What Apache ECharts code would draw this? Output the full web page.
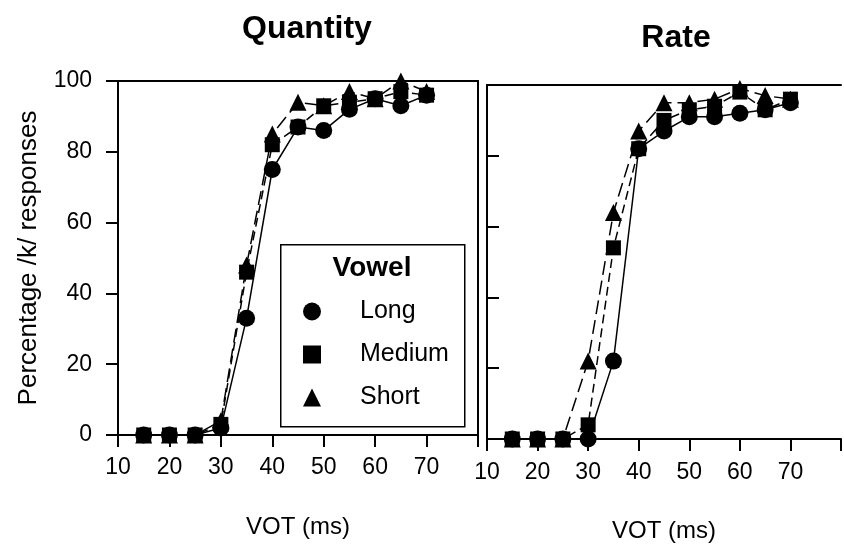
<!DOCTYPE html>
<html>
<head>
<meta charset="utf-8">
<script src="https://cdn.jsdelivr.net/npm/echarts@6/dist/echarts.min.js"></script>
<style>
html,body{margin:0;padding:0;background:#fff;}
#chart{width:844px;height:548px;}
</style>
</head>
<body>
<div id="chart"></div>
<script>
// ---- data ----
const panelTitles = ['Quantity', 'Rate'];
const vowels = ['Long', 'Medium', 'Short'];
const vot = [15, 20, 25, 30, 35, 40, 45, 50, 55, 60, 65, 70];
const xTicks = [10, 20, 30, 40, 50, 60, 70];
const yTicks = [0, 20, 40, 60, 80, 100];

const quantityLong   = [0, 0, 0, 2, 33, 75, 87, 86, 92, 95, 93, 96];
const quantityMedium = [0, 0, 0, 3, 46, 82, 87, 93, 94, 95, 97, 96];
const quantityShort  = [0, 0, 0, 4, 48, 85, 94, 93, 97, 95, 100, 97];

const rateLong   = [0, 0, 0, 0, 22, 82, 87, 91, 91, 92, 93, 95];
const rateMedium = [0, 0, 0, 4, 54, 82, 90, 93, 94, 98, 93, 96];
const rateShort  = [0, 0, 0, 22, 64, 87, 95, 95, 96, 99, 97, 96];

// ---- styling ----
const FONT = 'Liberation Sans, Arial, Helvetica, sans-serif';
const BLACK = '#000';
const symbols = {Long: 'circle', Medium: 'rect', Short: 'triangle'};
const symbolSizes = {Long: 17, Medium: 15, Short: 17};
const lineTypes = {Long: 'solid', Medium: [9, 5], Short: [14, 6]};

function pairs(ys) { return vot.map((x, i) => [x, ys[i]]); }

function mkSeries(name, ys, idx) {
  return {
    name: name, type: 'line', xAxisIndex: idx, yAxisIndex: idx,
    data: pairs(ys),
    symbol: symbols[name], symbolSize: symbolSizes[name],
    itemStyle: {color: BLACK},
    lineStyle: {color: BLACK, width: 1.5, type: lineTypes[name]},
    emphasis: {disabled: true}, animation: false, z: 2
  };
}

const tickLabelStyle = {color: BLACK, fontFamily: FONT, fontSize: 23};
function xLabelFmt(v) { return xTicks.indexOf(v) >= 0 ? String(v) : ''; }
function yLabelFmt(v) { return yTicks.indexOf(v) >= 0 ? String(v) : ''; }

const axisLine = {show: true, onZero: false, lineStyle: {color: BLACK, width: 2}};
const tickOut = {show: true, inside: false, length: 12, lineStyle: {color: BLACK, width: 2}};
const tickIn = {show: true, inside: true, length: 12, lineStyle: {color: BLACK, width: 2}};
const nameStyle = {fontFamily: FONT, fontSize: 24, color: BLACK};

const option = {
  backgroundColor: '#fff',
  animation: false,
  title: [
    {text: panelTitles[0], left: 302, top: 8, textAlign: 'center',
     textStyle: {fontFamily: FONT, fontWeight: 'bold', fontSize: 32, color: BLACK}},
    {text: panelTitles[1], left: 671, top: 17, textAlign: 'center',
     textStyle: {fontFamily: FONT, fontWeight: 'bold', fontSize: 32, color: BLACK}}
  ],
  grid: [
    {left: 118, top: 81, width: 360, height: 354, containLabel: false},
    {left: 487, top: 85, width: 356, height: 355, containLabel: false}
  ],
  xAxis: [
    {gridIndex: 0, type: 'value', min: 10, max: 80, interval: 10, position: 'bottom',
     name: 'VOT (ms)', nameLocation: 'middle', nameGap: 80, nameTextStyle: nameStyle,
     axisLine: axisLine, axisTick: tickOut,
     axisLabel: Object.assign({margin: 21, formatter: xLabelFmt}, tickLabelStyle),
     splitLine: {show: false}},
    {gridIndex: 1, type: 'value', min: 10, max: 80, interval: 10, position: 'bottom',
     name: 'VOT (ms)', nameLocation: 'middle', nameGap: 80, nameTextStyle: nameStyle,
     axisLine: axisLine, axisTick: tickOut,
     axisLabel: Object.assign({margin: 22, formatter: xLabelFmt}, tickLabelStyle),
     splitLine: {show: false}},
    {gridIndex: 0, type: 'value', min: 10, max: 80, position: 'top',
     axisLine: axisLine, axisTick: {show: false}, axisLabel: {show: false}, splitLine: {show: false}},
    {gridIndex: 1, type: 'value', min: 10, max: 80, position: 'top',
     axisLine: axisLine, axisTick: {show: false}, axisLabel: {show: false}, splitLine: {show: false}}
  ],
  yAxis: [
    {gridIndex: 0, type: 'value', min: 0, max: 100, interval: 20, position: 'left',
     name: 'Percentage /k/ responses', nameLocation: 'middle', nameGap: 76, nameRotate: 90,
     nameTextStyle: {fontFamily: FONT, fontSize: 26, color: BLACK},
     axisLine: axisLine, axisTick: tickOut,
     axisLabel: Object.assign({margin: 26, formatter: yLabelFmt}, tickLabelStyle),
     splitLine: {show: false}},
    {gridIndex: 1, type: 'value', min: 0, max: 100, interval: 20, position: 'left',
     axisLine: axisLine, axisTick: tickIn,
     axisLabel: {show: false}, splitLine: {show: false}},
    {gridIndex: 0, type: 'value', min: 0, max: 100, position: 'right',
     axisLine: axisLine, axisTick: {show: false}, axisLabel: {show: false}, splitLine: {show: false}}
  ],
  legend: {
    orient: 'vertical', left: 298, top: 294, z: 10,
    itemWidth: 18, itemHeight: 18, itemGap: 18,
    selectedMode: false,
    data: vowels.map(v => ({name: v, icon: symbols[v]})),
    itemStyle: {color: BLACK},
    textStyle: {fontFamily: FONT, fontSize: 25, color: BLACK, padding: [0, 0, 0, 34]}
  },
  graphic: [
    {type: 'rect', left: 280, top: 244, z: 5,
     shape: {width: 184, height: 182},
     style: {fill: '#fff', stroke: BLACK, lineWidth: 1.5}},
    {type: 'text', x: 372, y: 254, z: 11,
     style: {text: 'Vowel', fontFamily: FONT, fontWeight: 'bold', fontSize: 28, fill: BLACK, textAlign: 'center'}}
  ],
  series: [
    mkSeries('Long', quantityLong, 0),
    mkSeries('Medium', quantityMedium, 0),
    mkSeries('Short', quantityShort, 0),
    mkSeries('Long', rateLong, 1),
    mkSeries('Medium', rateMedium, 1),
    mkSeries('Short', rateShort, 1)
  ]
};

const chart = echarts.init(document.getElementById('chart'), null, {renderer: 'canvas'});
chart.setOption(option);
</script>
</body>
</html>
